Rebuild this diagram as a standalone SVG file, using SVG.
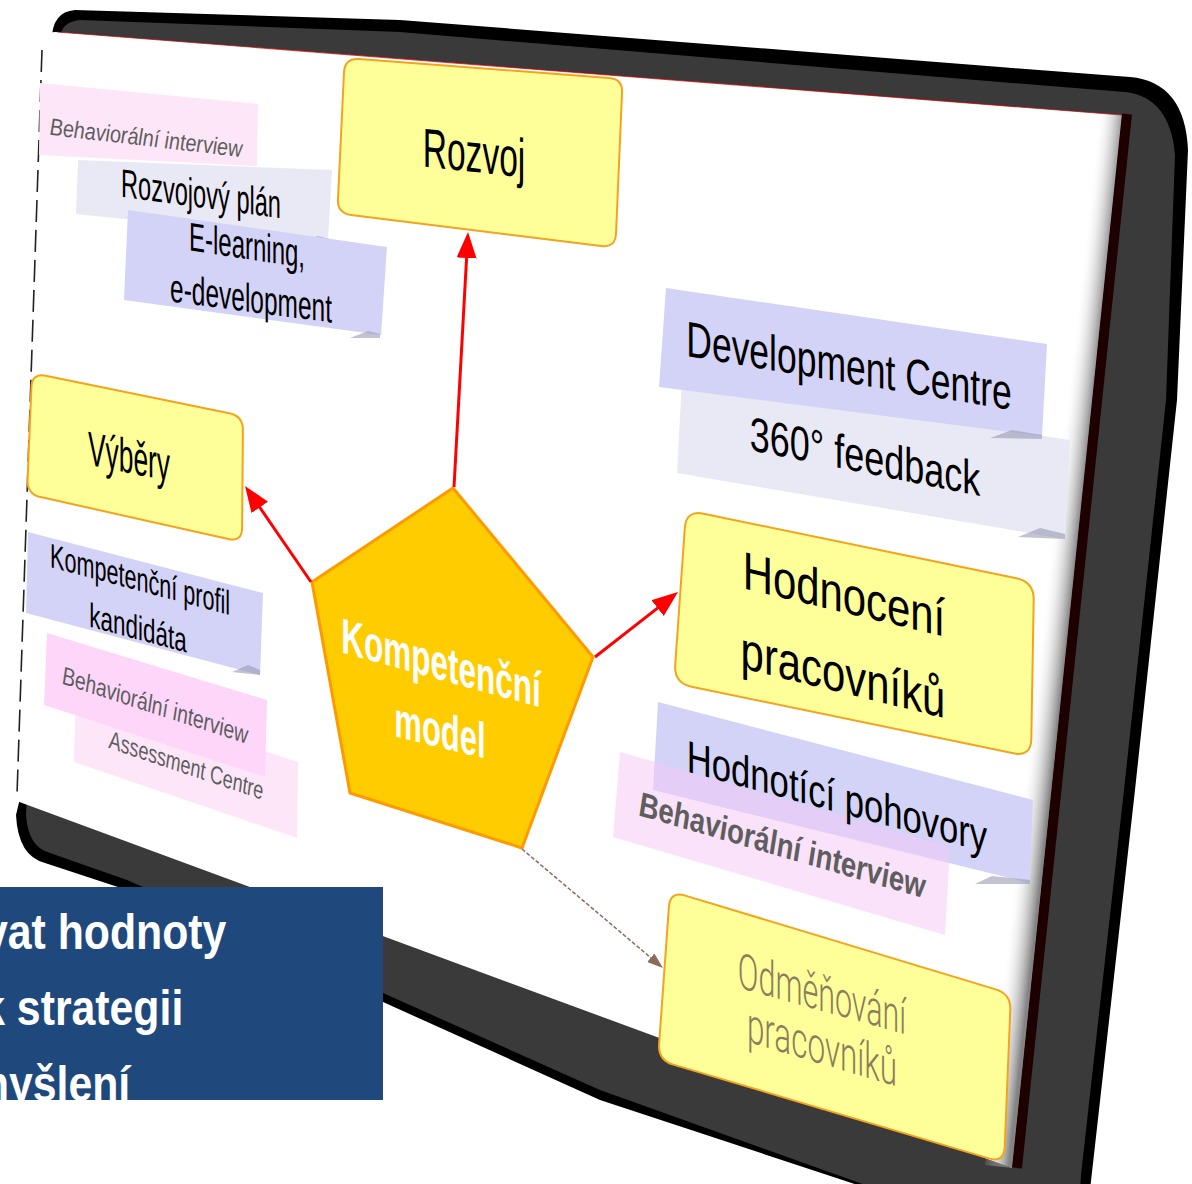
<svg xmlns="http://www.w3.org/2000/svg" width="1192" height="1184" viewBox="0 0 1192 1184">
<style>
.yb{fill:#ffff99;stroke:#f4a31f;stroke-width:2}
.lav{fill:#d3d3f7}
.lav2{fill:#e9e9f6}
.pink{fill:#fdd6fa}
.pink2{fill:#fce6f8}
.t{font-family:"Liberation Sans",Arial,sans-serif;text-anchor:middle}
.k{fill:#000}
.gi{fill:#5e5e5e;font-style:italic}
.red{stroke:#ff0000;stroke-width:3;fill:none}
.curl{fill:#9a9ab4;opacity:0.6}
</style>
<defs>
<marker id="ar" markerUnits="userSpaceOnUse" markerWidth="28" markerHeight="22" refX="4" refY="10" orient="auto"><path d="M0,0 L26,10 L0,20 Z" fill="#ff0000"/></marker>
<marker id="ab" markerUnits="userSpaceOnUse" markerWidth="18" markerHeight="12" refX="2" refY="5.5" orient="auto"><path d="M0,0 L16,5.5 L0,11 Z" fill="#8c6b5a"/></marker>
<linearGradient id="edgeSh" gradientUnits="userSpaceOnUse" x1="1040" y1="637" x2="1067" y2="640">
<stop offset="0" stop-color="#fff" stop-opacity="0"/><stop offset="1" stop-color="#6e6e6e" stop-opacity="0.85"/></linearGradient>
<clipPath id="blueclip"><rect x="0" y="887" width="383" height="213"/></clipPath>
</defs>
<rect width="1192" height="1184" fill="#fff"/>
<g id="frame">
<path d="M52,45 Q50,12 75,10 L400,20 L1000,67 L1130,77 Q1185,82 1188,150 L1177,400 L1135,790 L1090,1190 L1085,1260 L600,1100 L383,1002 L127,890 L45,863 Q18,856 16,815 L22,790 Z" fill="#000"/>
<path d="M60,40 Q60,22 80,20 L400,32 L1000,82 L1125,92 Q1170,97 1175,155 L1166,400 L1124,790 L1081,1175 L1075,1260 L600,1090 L383,993 L127,880 L50,853 Q28,847 26,815 Z" fill="#3a3a3a"/>
<path d="M44,44 Q44,31 57,32 L1122,115 L1012,1168 L14,800 Z" fill="#fff"/>
<path d="M1095,113 L1122,115 L1012,1168 L985,1165 Z" fill="url(#edgeSh)"/>
<line x1="1127" y1="114" x2="1017" y2="1168" stroke="#1f0000" stroke-width="10"/>
<line x1="57" y1="32" x2="1122" y2="115" stroke="#c80000" stroke-width="1.2" opacity="0.7"/>
<line x1="42" y1="50" x2="17" y2="795" stroke="#222" stroke-width="1.6" stroke-dasharray="22 8"/>
</g>
<g id="rozvojovy-plan">
<polygon class="lav2" points="78,160 332,170 328,240 76,214"/>
<polygon class="curl" points="300,242 318,236 330,239 328,244"/>
<text class="t k" font-size="40" transform="translate(201,207.5) skewY(7.6) scale(0.59,1)">Rozvojový plán</text>
</g>
<g id="behav-1">
<polygon class="pink2" points="40,83 258,104 257,166 39,155"/>
<text class="t gi" font-size="24" transform="translate(146,146) skewY(6.6) scale(0.82,1)">Behaviorální interview</text>
</g>
<g id="e-learning">
<polygon class="lav" points="128,210 387,247 381,335 124,300"/>
<polygon class="curl" points="350,338 368,331 380,334 380,338"/>
<text class="t k" font-size="40" transform="translate(247,259) skewY(8.5) scale(0.6,1)">E-learning,</text>
<text class="t k" font-size="40" transform="translate(251,312) skewY(7.4) scale(0.612,1)">e-development</text>
</g>
<g id="rozvoj">
<path class="yb" d="M359,59 L609,78 Q623,79 622,93 L616,234 Q615,248 601,246 L351,215 Q337,213 338,199 L344,72 Q345,58 359,59 Z"/>
<text class="t k" font-size="55" transform="translate(474,172) skewY(6.1) scale(0.61,1)">Rozvoj</text>
</g>
<g id="vybery">
<path class="yb" d="M45.7,375.8 L229.3,413.2 Q243,416 242.9,430 L242.1,528 Q242,542 228.3,538.9 L40.7,497.1 Q27,494 27.6,480 L31.4,387 Q32,373 45.7,375.8 Z"/>
<text class="t k" font-size="48" transform="translate(129,473) skewY(11.3) scale(0.55,1)">Výběry</text>
</g>
<g id="kompetencni-profil">
<polygon class="lav" points="28,532 263,593 260,675 26,613"/>
<polygon class="curl" points="232,672 248,665 260,670 260,675"/>
<text class="t k" font-size="34" transform="translate(140,591) skewY(15) scale(0.635,1)">Kompetenční profil</text>
<text class="t k" font-size="34" transform="translate(138,639.5) skewY(15) scale(0.66,1)">kandidáta</text>
</g>
<g id="assessment">
<polygon class="pink2" points="76,690 298,762 297,838 74,762"/>
<text class="t gi" font-size="26" transform="translate(186,774) skewY(18.6) scale(0.68,1)">Assessment Centre</text>
</g>
<g id="behav-2">
<polygon class="pink" points="47,633 267,700 265,777 44,705"/>
<text class="t gi" font-size="26" transform="translate(155,714) skewY(18) scale(0.73,1)">Behaviorální interview</text>
</g>
<g id="development-centre">
<polygon class="lav2" points="682,380 1070,440 1065,539 677,473"/>
<polygon class="curl" points="1018,537 1040,528 1065,534 1065,539"/>
<polygon class="lav" points="666,288 1047,344 1042,436 659,387"/>
<polygon class="curl" points="990,438 1012,430 1042,435 1042,439"/>
<text class="t k" font-size="50" transform="translate(849,383) skewY(9.4) scale(0.71,1)">Development Centre</text>
<text class="t k" font-size="48" transform="translate(865,473) skewY(11.3) scale(0.75,1)">360° feedback</text>
</g>
<g id="hodnoceni">
<path class="yb" d="M703.6,513.7 L1016.4,578.3 Q1034,582 1033.7,600 L1031.3,739 Q1031,757 1013.4,753.3 L691.6,686.7 Q674,683 675.2,665 L684.8,528 Q686,510 703.6,513.7 Z"/>
<text class="t k" font-size="53" transform="translate(844,612.5) skewY(13.5) scale(0.79,1)">Hodnocení</text>
<text class="t k" font-size="53" transform="translate(843,693) skewY(13.8) scale(0.79,1)">pracovníků</text>
</g>
<g id="hodnotici-pohovory">
<polygon class="lav" points="658,702 1033,800 1030,883 653,790"/>
<polygon class="curl" points="975,884 992,876 1030,880 1030,884"/>
<polygon points="620,752 950,847 945,935 613,837" fill="#f5c8f5" opacity="0.5"/>
<text class="t k" font-size="45" transform="translate(837,812) skewY(15.1) scale(0.77,1)">Hodnotící pohovory</text>
<text class="t gi" font-size="35" font-weight="bold" transform="translate(782,857) skewY(16.2) scale(0.77,1)">Behaviorální interview</text>
</g>
<g id="odmenovani">
<path class="yb" d="M685.3,895.6 L995.7,989.4 Q1011,994 1010.3,1010 L1004.7,1147 Q1004,1163 988.7,1158.4 L673.3,1064.6 Q658,1060 659.1,1044 L668.9,907 Q670,891 685.3,895.6 Z"/>
<text class="t" fill="#8b7d5e" font-size="50" font-weight="300" style="font-family:Roboto,'Liberation Sans',sans-serif" transform="translate(822,1011) skewY(15.6) scale(0.61,1)">Odměňování</text>
<text class="t" fill="#8b7d5e" font-size="50" font-weight="300" style="font-family:Roboto,'Liberation Sans',sans-serif" transform="translate(822,1064) skewY(16.7) scale(0.63,1)">pracovníků</text>
</g>
<g id="kompetencni-model">
<polygon points="453,488 593,657 522,848 350,793 312,582" fill="#ffcc00" stroke="#ff9900" stroke-width="3" stroke-linejoin="round"/>
<text class="t" fill="#fff" font-weight="bold" font-size="50" transform="translate(441,680) skewY(15.4) scale(0.63,1)">Kompetenční</text>
<text class="t" fill="#fff" font-weight="bold" font-size="50" transform="translate(440,747.5) skewY(13.7) scale(0.62,1)">model</text>
</g>
<g id="connectors">
<path class="red" d="M454,487 L466.8,254" marker-end="url(#ar)"/>
<path class="red" d="M311,582 L257.5,504.1" marker-end="url(#ar)"/>
<path class="red" d="M595,657 L660.7,605.6" marker-end="url(#ar)"/>
<path d="M522,849 L652.3,959" stroke="#8c6b5a" stroke-width="1.5" stroke-dasharray="4 2" fill="none" marker-end="url(#ab)"/>
</g>
<g id="blue-box">
<rect x="0" y="887" width="383" height="213" fill="#1f497d"/>
<g clip-path="url(#blueclip)" font-family="Liberation Sans, Arial, sans-serif" font-weight="bold" font-size="50" fill="#fff">
<text transform="translate(0,949) scale(0.856,1)" x="-18.7">vat hodnoty</text>
<text transform="translate(0,1025) scale(0.856,1)" x="-22">k strategii</text>
<text transform="translate(0,1101) scale(0.856,1)" x="-34">myšlení</text>
</g>
</g>
</svg>
